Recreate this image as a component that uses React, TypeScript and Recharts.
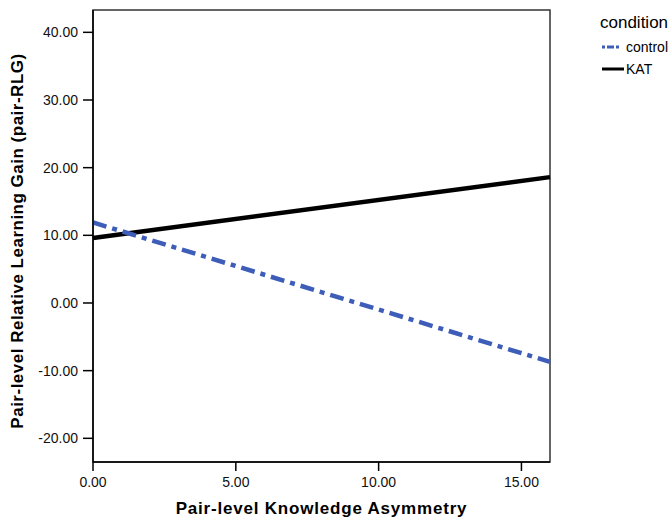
import React from 'react';
import { LineChart, Line, XAxis, YAxis, ReferenceArea } from 'recharts';

// Fitted line endpoints
const asymmetry = [0, 16];
const controlGain = [11.9, -8.7];
const katGain = [9.6, 18.6];

const xTicks = [0, 5, 10, 15];
const yTicks = [-20, -10, 0, 10, 20, 30, 40];

const X_DOMAIN: [number, number] = [0, 16];
const Y_DOMAIN: [number, number] = [-23.5, 43.3];

const data = asymmetry.map((x, i) => ({
  x,
  control: controlGain[i],
  kat: katGain[i],
}));

const FONT = 'Arial, "Liberation Sans", sans-serif';
const BLUE = '#3D5DB8';

const LegendBox = () => (
  <div style={{ position: 'absolute', left: 600, top: 13, fontFamily: FONT, color: '#000' }}>
    <div style={{ fontSize: 17, lineHeight: '20px', marginBottom: 3 }}>condition</div>
    <div style={{ display: 'flex', alignItems: 'center', fontSize: 14, height: 22 }}>
      <svg width={22} height={8} style={{ marginLeft: 2, marginRight: 2 }}>
        <line x1={0} y1={4} x2={22} y2={4} stroke={BLUE} strokeWidth={3} strokeDasharray="3 2 7 2 3 5" />
      </svg>
      control
    </div>
    <div style={{ display: 'flex', alignItems: 'center', fontSize: 14, height: 22 }}>
      <svg width={22} height={8} style={{ marginLeft: 2, marginRight: 2 }}>
        <line x1={0} y1={4} x2={22} y2={4} stroke="#000" strokeWidth={3} />
      </svg>
      KAT
    </div>
  </div>
);

const App = () => {
  const tickStyle = { fill: '#111', fontSize: 14, fontFamily: FONT };
  return (
    <div style={{ position: 'absolute', left: 0, top: 0, width: 672, height: 517, background: '#fff' }}>
      <LineChart
        width={672}
        height={517}
        data={data}
        margin={{ top: 10, right: 122, bottom: 0, left: 0 }}
      >
        <XAxis
          dataKey="x"
          type="number"
          domain={X_DOMAIN}
          ticks={xTicks}
          tickFormatter={(v: number) => v.toFixed(2)}
          tick={tickStyle}
          tickSize={9}
          tickMargin={6}
          height={55}
          axisLine={{ stroke: '#000', strokeWidth: 1.5 }}
          tickLine={{ stroke: '#000', strokeWidth: 1.5 }}
          label={{
            value: 'Pair-level Knowledge Asymmetry',
            position: 'insideBottom',
            offset: 3,
            style: { fontFamily: FONT, fontSize: 17, fontWeight: 'bold', fill: '#000', letterSpacing: 0.8 },
          }}
        />
        <YAxis
          type="number"
          domain={Y_DOMAIN}
          ticks={yTicks}
          tickFormatter={(v: number) => v.toFixed(2)}
          tick={tickStyle}
          tickSize={10}
          tickMargin={5}
          width={93}
          axisLine={{ stroke: '#000', strokeWidth: 1.5 }}
          tickLine={{ stroke: '#000', strokeWidth: 1.5 }}
          label={{
            value: 'Pair-level Relative Learning Gain (pair-RLG)',
            angle: -90,
            position: 'insideLeft',
            offset: 17,
            dy: 5,
            style: { fontFamily: FONT, fontSize: 17, fontWeight: 'bold', fill: '#000', textAnchor: 'middle', letterSpacing: 0.5 },
          }}
        />
        {/* plot frame */}
        <ReferenceArea
          x1={X_DOMAIN[0]}
          x2={X_DOMAIN[1]}
          y1={Y_DOMAIN[0]}
          y2={Y_DOMAIN[1]}
          fill="none"
          fillOpacity={0}
          stroke="#333"
          strokeWidth={1.5}
          ifOverflow="visible"
        />
        <Line
          dataKey="kat"
          name="KAT"
          stroke="#000"
          strokeWidth={4.5}
          dot={false}
          isAnimationActive={false}
        />
        <Line
          dataKey="control"
          name="control"
          stroke={BLUE}
          strokeWidth={4.5}
          strokeDasharray="14 6 5 6"
          dot={false}
          isAnimationActive={false}
        />
      </LineChart>
      <LegendBox />
    </div>
  );
};

export default App;
